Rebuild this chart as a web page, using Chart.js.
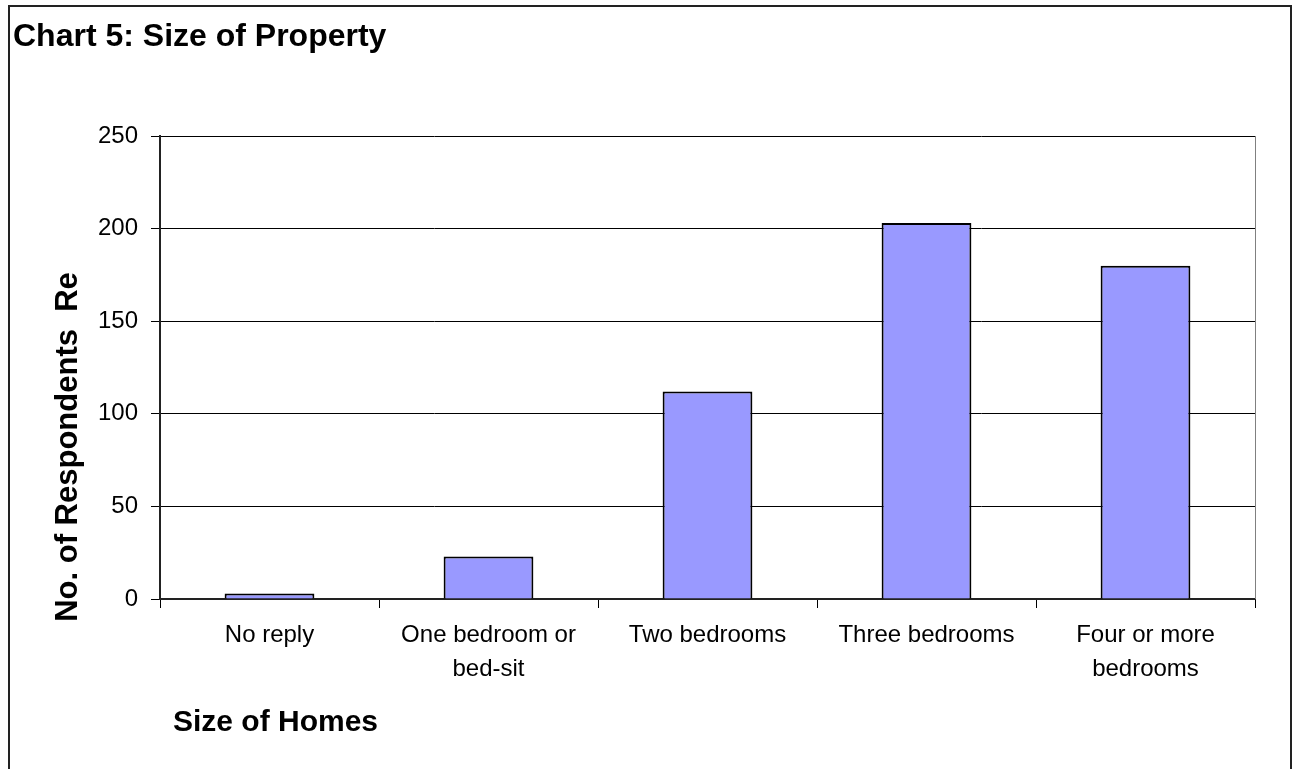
<!DOCTYPE html>
<html>
<head>
<meta charset="utf-8">
<title>Chart 5: Size of Property</title>
<script src="https://cdn.jsdelivr.net/npm/chart.js@4/dist/chart.umd.min.js"></script>
<style>
  html, body { margin: 0; padding: 0; background: #fff; }
  canvas { display: block; }
</style>
</head>
<body>
<canvas id="propertyChart" width="1298" height="769"></canvas>
<script>
// Survey answers: number of respondents by size of home
const categories = [
  ["No reply"],
  ["One bedroom or", "bed-sit"],
  ["Two bedrooms"],
  ["Three bedrooms"],
  ["Four or more", "bedrooms"],
];
const respondents = [3, 23, 112, 203, 180];

const yMin = 0;
const yMax = 250;
const yStep = 50;

const chartTitle = "Chart 5: Size of Property";
const xTitle = "Size of Homes";
const yTitle = "No. of Respondents  Re";

const FONT = "'Liberation Sans', Arial, sans-serif";

// frame round the whole chart, plus the titles placed by hand
const decorations = {
  id: "decorations",
  beforeDraw(chart) {
    const ctx = chart.ctx;
    ctx.save();
    ctx.fillStyle = "#fff";
    ctx.fillRect(0, 0, chart.width, chart.height);
    ctx.strokeStyle = "#222";
    ctx.lineWidth = 2;
    ctx.strokeRect(9, 6, 1282, chart.height + 10);
    ctx.restore();
  },
  afterDraw(chart) {
    const ctx = chart.ctx;
    const area = chart.chartArea;
    ctx.save();
    // grey right edge of the plot area
    ctx.strokeStyle = "#808080";
    ctx.lineWidth = 1;
    ctx.beginPath();
    ctx.moveTo(Math.round(area.right) + 0.5, area.top);
    ctx.lineTo(Math.round(area.right) + 0.5, area.bottom);
    ctx.stroke();

    ctx.fillStyle = "#000";
    ctx.textBaseline = "alphabetic";
    ctx.textAlign = "left";
    ctx.font = "bold 32px " + FONT;
    ctx.fillText(chartTitle, 13, 46);

    ctx.font = "bold 30px " + FONT;
    ctx.fillText(xTitle, 173, 731);

    ctx.font = "bold 31px " + FONT;
    ctx.translate(77, 447);
    ctx.rotate(-Math.PI / 2);
    ctx.textAlign = "center";
    ctx.fillText(yTitle, 0, 0);
    ctx.restore();
  },
};

new Chart(document.getElementById("propertyChart"), {
  type: "bar",
  data: {
    labels: categories,
    datasets: [
      {
        label: "Respondents",
        data: respondents,
        backgroundColor: "#9999ff",
        borderColor: "#000",
        borderWidth: 2,
        barPercentage: 0.41,
        categoryPercentage: 1,
      },
    ],
  },
  options: {
    responsive: false,
    animation: false,
    layout: { padding: { top: 136, right: 43, left: 0, bottom: 0 } },
    plugins: {
      legend: { display: false },
      title: { display: false },
      tooltip: { enabled: false },
    },
    scales: {
      x: {
        afterFit: (scale) => { scale.height = 170; },
        grid: {
          offset: true,
          drawOnChartArea: false,
          color: "#000",
          tickLength: 9,
        },
        border: { color: "#222", width: 2 },
        ticks: {
          color: "#000",
          font: { family: FONT, size: 24, lineHeight: 1.4 },
          padding: 11,
          maxRotation: 0,
          autoSkip: false,
        },
      },
      y: {
        min: yMin,
        max: yMax,
        afterFit: (scale) => { scale.width = 160; },
        grid: { color: "#000", lineWidth: 1, tickLength: 9 },
        border: { color: "#222", width: 2 },
        ticks: {
          stepSize: yStep,
          color: "#000",
          font: { family: FONT, size: 24 },
          padding: 13,
        },
      },
    },
  },
  plugins: [decorations],
});
</script>
</body>
</html>
